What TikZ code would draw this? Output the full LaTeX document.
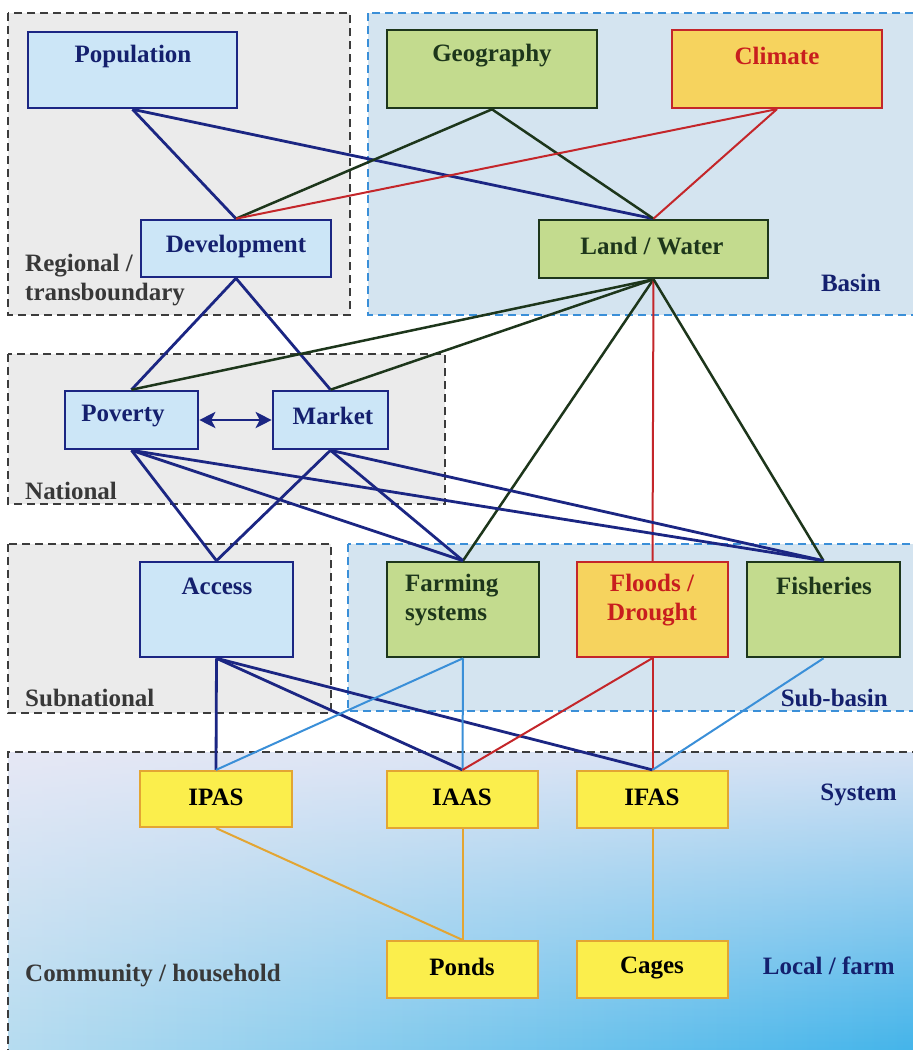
\documentclass[tikz,border=0pt]{standalone}
\usepackage{fontspec}
\setmainfont{Liberation Serif}
\usetikzlibrary{arrows.meta,fadings}
\definecolor{navy}{HTML}{1B2683}
\definecolor{navytext}{HTML}{14206E}
\definecolor{dkgreen}{HTML}{1D361B}
\definecolor{redline}{HTML}{C4262A}
\definecolor{redtext}{HTML}{C81E1E}
\definecolor{ltblueline}{HTML}{3A8FD8}
\definecolor{orangeline}{HTML}{E3A533}
\definecolor{bluefill}{HTML}{CCE6F7}
\definecolor{greenfill}{HTML}{C3DB8E}
\definecolor{climfill}{HTML}{F6D35E}
\definecolor{yellowfill}{HTML}{FBEE4C}
\definecolor{grayregion}{HTML}{EBEBEB}
\definecolor{blueregion}{HTML}{D4E4F0}
\definecolor{grayedge}{HTML}{3C3C3C}
\definecolor{blueedge}{HTML}{3A8FD8}
\definecolor{labelgray}{HTML}{383838}
\definecolor{shadeA}{HTML}{B5DCF0}
\definecolor{shadeB}{HTML}{3FB3EA}
\definecolor{lavender}{HTML}{EFEAF6}
\begin{document}
\begin{tikzpicture}[x=1pt,y=-1pt,
  txt/.style={font=\fontsize{25}{29}\selectfont\bfseries, inner sep=0pt},
  box/.style={draw, rectangle, inner sep=0pt, line width=2.6pt},
  bluebox/.style={box, draw=navy, fill=bluefill},
  greenbox/.style={box, draw=dkgreen, fill=greenfill},
  redbox/.style={box, draw=redline, fill=climfill, line width=2.2pt},
  yelbox/.style={box, draw=orangeline, fill=yellowfill, line width=2.2pt},
  grayreg/.style={draw=grayedge, fill=grayregion, line width=1.5pt, dash pattern=on 8pt off 5pt},
  bluereg/.style={draw=blueedge, fill=blueregion, line width=1.5pt, dash pattern=on 8pt off 5pt},
  nv/.style={draw=navy, line width=2.8pt},
  gr/.style={draw=dkgreen, line width=2.5pt},
  rd/.style={draw=redline, line width=2pt},
  lb/.style={draw=ltblueline, line width=2pt},
  og/.style={draw=orangeline, line width=2pt},
  bigtip/.style={arrows={Stealth[length=16pt,width=16pt,inset=4pt]-Stealth[length=16pt,width=16pt,inset=4pt]}}
]
\useasboundingbox (0,0) rectangle (913,1050);
\clip (0,0) rectangle (913,1050);
\fill[white] (0,0) rectangle (913,1050);

% regions
\path[grayreg] (8,13) rectangle (350,315);
\path[bluereg] (368,13) rectangle (930,315);
\path[grayreg] (8,354) rectangle (445,504);
\path[grayreg] (8,544) rectangle (331,713);
\path[bluereg] (348,544) rectangle (930,711);
\shade[left color=shadeA, right color=shadeB] (8,752) rectangle (930,1070);
\fill[lavender, opacity=0.85, path fading=south] (8,752) rectangle (930,1055);
\draw[draw=grayedge, line width=1.5pt, dash pattern=on 8pt off 5pt] (8,1070) -- (8,752) -- (930,752);

% region labels
\node[txt, text=labelgray, anchor=west, align=left] (lregional) at (25,280) {Regional /\\transboundary};
\node[txt, text=navytext, anchor=east] (lbasin) at (881,283) {Basin};
\node[txt, text=labelgray, anchor=west] (lnational) at (25,491) {National};
\node[txt, text=labelgray, anchor=west] (lsubnat) at (25,698) {Subnational};
\node[txt, text=navytext, anchor=east] (lsubbasin) at (888,698) {Sub-basin};
\node[txt, text=navytext, anchor=east] (lsystem) at (897,795) {System};
\node[txt, text=navytext, anchor=east] (llocal) at (895,966) {Local / farm};
\node[txt, text=labelgray, anchor=west] (lcomm) at (25,976) {Community / household};

% boxes
\node[bluebox, minimum width=209pt, minimum height=76pt] (pop) at (132.5,70) {};
\node[greenbox, minimum width=210pt, minimum height=78pt] (geo) at (492,69) {};
\node[redbox, minimum width=210pt, minimum height=78pt] (clim) at (777,69) {};
\node[bluebox, minimum width=190pt, minimum height=57pt] (dev) at (236,248.5) {};
\node[greenbox, minimum width=229pt, minimum height=58pt] (lw) at (653.5,249) {};
\node[bluebox, minimum width=133pt, minimum height=58pt] (pov) at (131.5,420) {};
\node[bluebox, minimum width=115pt, minimum height=58pt] (mkt) at (330.5,420) {};
\node[bluebox, minimum width=153pt, minimum height=95pt] (acc) at (216.5,609.5) {};
\node[greenbox, minimum width=152pt, minimum height=95pt] (farm) at (463,609.5) {};
\node[redbox, minimum width=151pt, minimum height=95pt] (flood) at (652.5,609.5) {};
\node[greenbox, minimum width=153pt, minimum height=95pt] (fish) at (823.5,609.5) {};
\node[yelbox, minimum width=152pt, minimum height=56pt] (ipas) at (216,799) {};
\node[yelbox, minimum width=151pt, minimum height=57pt] (iaas) at (462.5,799.5) {};
\node[yelbox, minimum width=151pt, minimum height=57pt] (ifas) at (652.5,799.5) {};
\node[yelbox, minimum width=151pt, minimum height=57pt] (ponds) at (462.5,969.5) {};
\node[yelbox, minimum width=151pt, minimum height=57pt] (cages) at (652.5,969.5) {};

% box texts
\node[txt, text=navytext] (tpop) at (133,56) {Population};
\node[txt, text=dkgreen] (tgeo) at (492,56) {Geography};
\node[txt, text=redtext] (tclim) at (777,56) {Climate};
\node[txt, text=navytext] (tdev) at (236,246) {Development};
\node[txt, text=dkgreen] (tlw) at (652,246) {Land / Water};
\node[txt, text=navytext] (tpov) at (123,416) {Poverty};
\node[txt, text=navytext] (tmkt) at (333,416) {Market};
\node[txt, text=navytext] (tacc) at (217,586) {Access};
\node[txt, text=dkgreen, anchor=north west, align=left] (tfarm) at (405,574) {Farming\\systems};
\node[txt, text=redtext, anchor=north, align=center] (tflood) at (652,574) {Floods /\\Drought};
\node[txt, text=dkgreen] (tfish) at (824,586) {Fisheries};
\node[txt] (tipas) at (216,797) {IPAS};
\node[txt] (tiaas) at (462,797) {IAAS};
\node[txt] (tifas) at (652,797) {IFAS};
\node[txt] (tponds) at (462,967) {Ponds};
\node[txt] (tcages) at (652,968) {Cages};

% connectors
\draw[nv] (pop.south) -- (dev.north);
\draw[nv] (pop.south) -- (lw.north);
\draw[gr] (geo.south) -- (dev.north);
\draw[gr] (geo.south) -- (lw.north);
\draw[rd] (clim.south) -- (dev.north);
\draw[rd] (clim.south) -- (lw.north);

\draw[nv] (dev.south) -- (pov.north);
\draw[nv] (dev.south) -- (mkt.north);
\draw[gr] (lw.south) -- (pov.north);
\draw[gr] (lw.south) -- (mkt.north);
\draw[gr] (lw.south) -- (farm.north);
\draw[rd] (lw.south) -- (flood.north);
\draw[gr] (lw.south) -- (fish.north);

\draw[nv, bigtip] (pov.east) -- (mkt.west);

\draw[nv] (pov.south) -- (acc.north);
\draw[nv] (pov.south) -- (farm.north);
\draw[nv] (pov.south) -- (fish.north);
\draw[nv] (mkt.south) -- (acc.north);
\draw[nv] (mkt.south) -- (farm.north);
\draw[nv] (mkt.south) -- (fish.north);

\draw[nv] (acc.south) -- (ipas.north);
\draw[nv] (acc.south) -- (iaas.north);
\draw[nv] (acc.south) -- (ifas.north);
\draw[lb] (farm.south) -- (ipas.north);
\draw[lb] (farm.south) -- (iaas.north);
\draw[rd] (flood.south) -- (iaas.north);
\draw[rd] (flood.south) -- (ifas.north);
\draw[lb] (fish.south) -- (ifas.north);

\draw[og] (ipas.south) -- (ponds.north);
\draw[og] (iaas.south) -- (ponds.north);
\draw[og] (ifas.south) -- (cages.north);
\end{tikzpicture}
\end{document}
